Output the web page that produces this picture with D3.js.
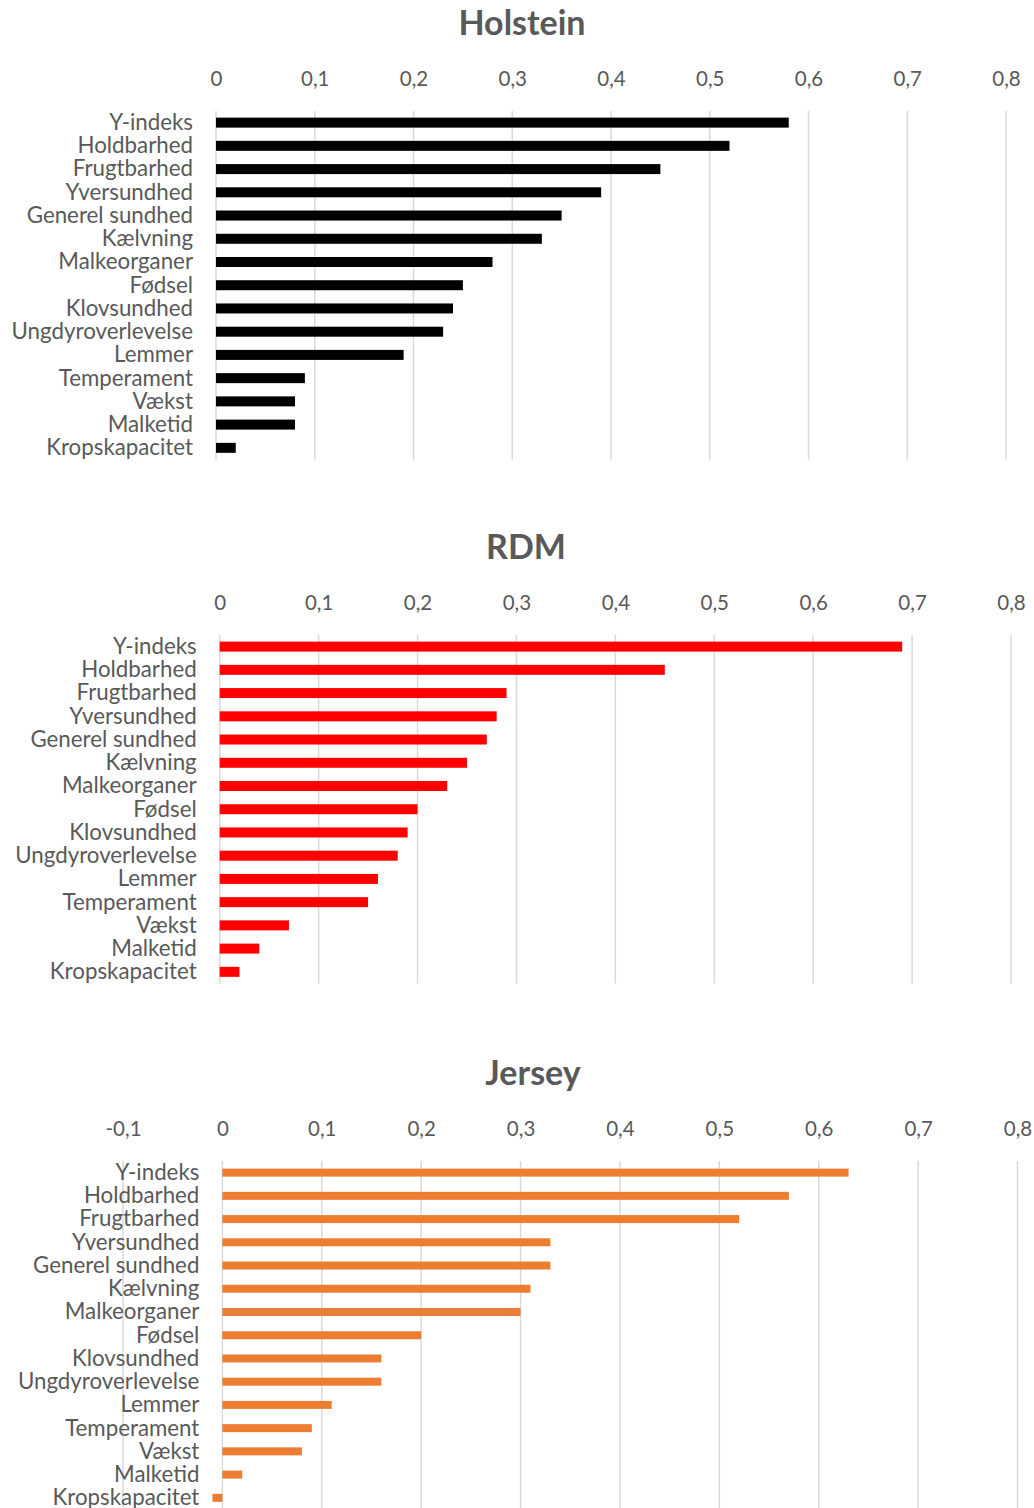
<!DOCTYPE html>
<html>
<head>
<meta charset="utf-8">
<script src="https://cdn.jsdelivr.net/npm/d3@7"></script>
<style>
  body { margin: 0; background: #fff; }
  svg { display: block; font-family: Lato, "Open Sans", sans-serif; }
</style>
</head>
<body>
<svg id="chart" width="1034" height="1508"></svg>
<script>
// Data
const categories = ["Y-indeks", "Holdbarhed", "Frugtbarhed", "Yversundhed", "Generel sundhed",
  "Kælvning", "Malkeorganer", "Fødsel", "Klovsundhed", "Ungdyroverlevelse", "Lemmer",
  "Temperament", "Vækst", "Malketid", "Kropskapacitet"];
const holsteinValues = [0.58, 0.52, 0.45, 0.39, 0.35, 0.33, 0.28, 0.25, 0.24, 0.23, 0.19, 0.09, 0.08, 0.08, 0.02];
const rdmValues = [0.69, 0.45, 0.29, 0.28, 0.27, 0.25, 0.23, 0.20, 0.19, 0.18, 0.16, 0.15, 0.07, 0.04, 0.02];
const jerseyValues = [0.63, 0.57, 0.52, 0.33, 0.33, 0.31, 0.30, 0.20, 0.16, 0.16, 0.11, 0.09, 0.08, 0.02, -0.01];
const ticksPos = [0, 0.1, 0.2, 0.3, 0.4, 0.5, 0.6, 0.7, 0.8];
const ticksJersey = [-0.1, 0, 0.1, 0.2, 0.3, 0.4, 0.5, 0.6, 0.7, 0.8];

// Panel layout
const panels = [
  { title: "Holstein", values: holsteinValues, color: "#000000", ticks: ticksPos,
    domain: [0, 0.8], range: [216, 1006], top: 111, barH: 10, titleX: 522 },
  { title: "RDM", values: rdmValues, color: "#FF0000", ticks: ticksPos,
    domain: [0, 0.8], range: [219.7, 1011], top: 635, barH: 10, titleX: 526 },
  { title: "Jersey", values: jerseyValues, color: "#ED7D31", ticks: ticksJersey,
    domain: [-0.1, 0.8], range: [123, 1017.5], top: 1161, barH: 8, titleX: 533 }
];

const svg = d3.select("#chart");
const fmt = d => String(+d.toFixed(1)).replace(".", ",");
const step = 23.23;

panels.forEach(p => {
  const g = svg.append("g");
  const x = d3.scaleLinear().domain(p.domain).range(p.range);
  const pi = 1 - p.barH / step;
  const y = d3.scaleBand().domain(categories)
    .range([p.top, p.top + step * categories.length])
    .paddingInner(pi).paddingOuter(pi / 2);

  // Title
  g.append("text")
    .attr("x", p.titleX).attr("y", p.top - 76)
    .attr("text-anchor", "middle")
    .attr("font-size", 34).attr("font-weight", "bold")
    .attr("fill", "#595959")
    .text(p.title);

  // Gridlines
  g.selectAll(".grid").data(p.ticks).join("line")
    .attr("x1", d => x(d)).attr("x2", d => x(d))
    .attr("y1", p.top).attr("y2", p.top + step * categories.length)
    .attr("stroke", "#D9D9D9").attr("stroke-width", 1.5);

  // Top axis labels
  const axis = d3.axisTop(x).tickValues(p.ticks).tickFormat(fmt).tickSize(0).tickPadding(0);
  const ax = g.append("g").attr("transform", `translate(0,${p.top - 25})`).call(axis);
  ax.select(".domain").remove();
  ax.selectAll("text").attr("font-size", 20.5).attr("fill", "#595959")
    .attr("font-family", "Lato, sans-serif").attr("dy", 0);

  // Bars
  g.selectAll(".bar").data(p.values).join("rect")
    .attr("x", d => x(Math.min(0, d)))
    .attr("width", d => Math.abs(x(d) - x(0)))
    .attr("y", (d, i) => y(categories[i]))
    .attr("height", y.bandwidth())
    .attr("fill", p.color);

  // Category labels
  g.selectAll(".cat").data(categories).join("text")
    .attr("x", x(0) - 23)
    .attr("y", d => y(d) + y.bandwidth() / 2)
    .attr("dy", "0.33em")
    .attr("text-anchor", "end")
    .attr("font-size", 22.3)
    .attr("fill", "#595959")
    .text(d => d);
});
</script>
</body>
</html>
